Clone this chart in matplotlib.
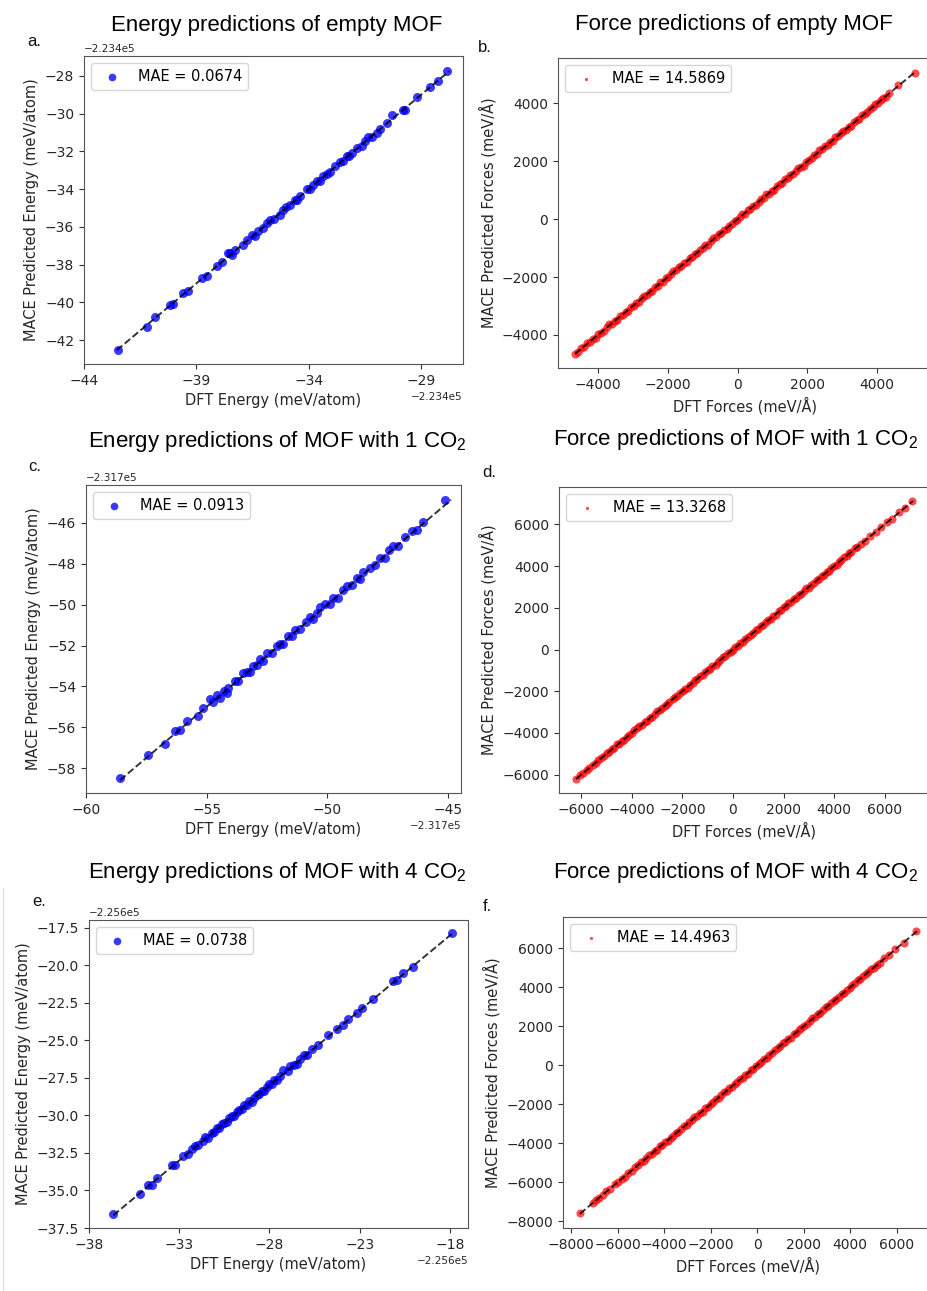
import numpy as np
import matplotlib
matplotlib.use("Agg")
import matplotlib.pyplot as plt
from matplotlib.lines import Line2D
from matplotlib.ticker import FixedLocator, MultipleLocator

# ---------------------------------------------------------------- data
# Energies are per-atom values in meV/atom; stored relative to a base value.
BASE_EMPTY = -223400.0
BASE_1CO2 = -231700.0
BASE_4CO2 = -225600.0

dft_e_empty = [
    -42.50, -41.21, -40.84, -40.17, -40.03, -39.58, -39.36, -38.76, -38.54, -38.09,
    -37.87, -37.58, -37.50, -37.43, -37.28, -36.91, -36.76, -36.54, -36.40, -36.24,
    -36.02, -35.87, -35.72, -35.55, -35.28, -35.13, -35.00, -34.83, -34.61, -34.50,
    -34.39, -34.09, -33.94, -33.80, -33.65, -33.50, -33.35, -33.20, -33.05, -32.83,
    -32.61, -32.46, -32.31, -32.20, -32.09, -31.86, -31.64, -31.49, -31.35, -31.20,
    -30.97, -30.83, -30.53, -30.31, -29.79, -29.71, -29.19, -28.60, -28.23, -27.83,
]
err_e_empty = [
    -0.04, -0.12, 0.06, 0.03, -0.08, 0.05, -0.02, 0.07, -0.05, 0.04,
    0.02, 0.18, 0.10, -0.06, 0.08, -0.03, 0.05, 0.09, -0.07, 0.02,
    -0.04, 0.06, 0.11, -0.03, -0.08, 0.04, 0.07, -0.02, 0.03, -0.06,
    0.05, 0.09, -0.04, 0.02, 0.06, -0.07, 0.03, 0.01, -0.05, 0.08,
    0.04, -0.03, 0.07, -0.06, 0.02, 0.05, -0.08, 0.03, 0.10, -0.02,
    -0.07, 0.04, 0.06, 0.22, -0.03, -0.09, 0.05, 0.02, -0.04, 0.08,
]

dft_e_1co2 = [
    -58.59, -57.42, -56.73, -56.31, -56.10, -55.83, -55.34, -55.14, -54.86, -54.72,
    -54.58, -54.45, -54.30, -54.17, -54.10, -53.83, -53.69, -53.48, -53.34, -53.20,
    -53.07, -52.90, -52.79, -52.65, -52.51, -52.30, -52.10, -51.96, -51.82, -51.62,
    -51.48, -51.34, -51.13, -50.90, -50.72, -50.58, -50.44, -50.30, -50.10, -49.89,
    -49.75, -49.54, -49.34, -49.20, -48.99, -48.78, -48.64, -48.51, -48.23, -48.02,
    -47.82, -47.61, -47.45, -47.26, -47.06, -46.78, -46.50, -46.30, -46.02, -45.12,
]
err_e_1co2 = [
    0.10, 0.05, -0.08, 0.12, -0.05, 0.15, -0.10, 0.08, 0.22, -0.06,
    0.18, -0.12, 0.09, -0.15, 0.04, 0.10, -0.07, 0.13, 0.06, -0.11,
    0.08, -0.04, 0.12, -0.09, 0.15, -0.06, 0.10, 0.03, -0.12, 0.07,
    -0.05, 0.11, -0.08, 0.06, 0.14, -0.10, 0.05, 0.20, 0.12, -0.07,
    0.09, -0.12, 0.06, 0.11, -0.04, 0.08, -0.09, 0.13, 0.05, -0.06,
    0.10, -0.08, 0.12, 0.15, -0.05, 0.07, 0.10, -0.03, 0.06, 0.25,
]

dft_e_4co2 = [
    -36.65, -35.17, -34.71, -34.53, -34.25, -33.42, -33.24, -32.77, -32.50, -32.30,
    -32.13, -31.94, -31.70, -31.55, -31.39, -31.20, -31.05, -30.93, -30.78, -30.65,
    -30.50, -30.37, -30.22, -30.10, -29.95, -29.82, -29.68, -29.54, -29.40, -29.26,
    -29.12, -28.99, -28.85, -28.71, -28.57, -28.43, -28.30, -28.16, -28.02, -27.88,
    -27.74, -27.60, -27.40, -27.23, -26.96, -26.86, -26.65, -26.49, -26.31, -26.10,
    -25.94, -25.66, -25.29, -24.74, -24.28, -23.91, -23.63, -23.17, -22.89, -22.25,
    -21.14, -20.95, -20.59, -20.03, -17.91,
]
err_e_4co2 = [
    0.06, -0.04, 0.08, -0.10, 0.05, 0.12, -0.03, 0.07, -0.06, 0.04,
    0.09, -0.05, 0.03, 0.11, -0.08, 0.06, -0.02, 0.10, -0.07, 0.05,
    0.02, -0.06, 0.08, 0.04, -0.09, 0.07, 0.03, -0.05, 0.10, -0.03,
    0.06, -0.08, 0.04, 0.09, -0.02, 0.07, -0.06, 0.05, 0.11, -0.04,
    0.08, -0.03, 0.06, 0.25, -0.07, 0.18, 0.04, -0.05, 0.09, 0.12,
    -0.06, 0.08, -0.04, 0.10, 0.05, -0.08, 0.06, -0.03, 0.07, 0.04,
    0.09, -0.05, 0.06, -0.08, 0.07,
]

# Force components in meV/Å
dft_f_empty = [
    -4654, -4560, -4470, -4395, -4310, -4220, -4150, -4065, -3985, -3910,
    -3830, -3745, -3670, -3600, -3515, -3440, -3365, -3290, -3205, -3130,
    -3060, -2975, -2900, -2830, -2745, -2670, -2600, -2515, -2440, -2370,
    -2290, -2210, -2140, -2060, -1985, -1910, -1835, -1755, -1680, -1605,
    -1530, -1450, -1375, -1300, -1225, -1150, -1070, -995, -920, -845,
    -770, -690, -615, -540, -465, -390, -310, -235, -160, -85,
    -10, 65, 140, 220, 295, 370, 445, 520, 600, 675,
    750, 825, 900, 980, 1055, 1130, 1205, 1280, 1360, 1435,
    1510, 1585, 1660, 1740, 1815, 1890, 1965, 2040, 2120, 2195,
    2270, 2345, 2420, 2500, 2575, 2650, 2725, 2800, 2880, 2955,
    3030, 3105, 3180, 3260, 3335, 3410, 3485, 3560, 3640, 3715,
    3790, 3865, 3940, 4020, 4095, 4170, 4250, 4330, 4600, 5080,
]
err_f_empty = [
    12, -35, 20, -8, 31, -22, 5, -40, 18, -12,
    -27, 9, 36, -15, 4, -30, 22, -6, 14, -38,
    25, -11, 7, -33, 17, 30, -19, 2, -25, 11,
    -4, 28, -36, 15, -20, 6, 33, -14, 21, -29,
    8, -17, 26, -3, 37, -24, 13, -9, 19, -32,
    3, 24, -13, 34, -21, 10, -37, 16, -5, 29,
    -18, 6, 32, -26, 14, -2, 23, -31, 9, 38,
    -10, 27, -16, 1, -34, 19, 12, -23, 35, -7,
    21, -28, 4, 31, -12, -39, 17, 8, -20, 26,
    -15, 33, -4, 22, -30, 11, -9, 36, -18, 5,
    28, -22, 15, -35, 7, 24, -13, 30, -1, -27,
    18, -8, 34, -19, 10, 27, -36, 14, 45, -30,
]

dft_f_1co2 = [
    -6197, -6050, -5930, -5790, -5680, -5555, -5425, -5330, -5205, -5095,
    -4990, -4905, -4790, -4705, -4590, -4510, -4395, -4310, -4190, -4105,
    -3995, -3910, -3785, -3700, -3610, -3495, -3405, -3290, -3210, -3095,
    -3005, -2890, -2810, -2695, -2605, -2515, -2390, -2310, -2195, -2110,
    -1990, -1905, -1795, -1710, -1590, -1505, -1410, -1295, -1205, -1110,
    -995, -905, -810, -690, -605, -495, -410, -300, -205, -95,
    -5, 90, 205, 295, 410, 490, 605, 695, 810, 905,
    990, 1110, 1195, 1305, 1390, 1510, 1595, 1690, 1805, 1890,
    2010, 2095, 2190, 2310, 2405, 2490, 2605, 2710, 2795, 2910,
    2990, 3105, 3195, 3310, 3390, 3505, 3590, 3710, 3795, 3890,
    4005, 4110, 4190, 4290, 4410, 4495, 4600, 4690, 4810, 4910,
    5060, 5240, 5420, 5650, 5860, 6080, 6310, 6560, 6820, 7100,
]
err_f_1co2 = [
    -20, 15, -8, 30, -12, 22, -35, 6, 18, -26,
    9, -31, 24, -5, 33, -17, 11, -28, 3, 19,
    -14, 27, -3, 36, -22, 8, -33, 16, -9, 25,
    31, -11, 20, -30, 4, -19, 13, 34, -24, 7,
    -6, 23, -37, 12, -15, 29, -2, 18, -27, 10,
    26, -18, 5, -32, 21, -7, 35, -13, 15, -25,
    2, 30, -21, 9, -34, 17, -4, 24, -16, 32,
    -10, 14, -29, 22, 6, -36, 19, -12, 28, -3,
    16, -24, 33, -8, 11, -19, 27, -31, 4, 21,
    -15, 7, -26, 35, -1, 13, -22, 30, -9, 18,
    25, -33, 10, -17, 29, -6, 16, -28, 38, -14,
    22, -18, 35, -25, 12, 40, -30, 18, -22, 30,
]

dft_f_4co2 = [
    -7620, -7040, -6930, -6790, -6640, -6480, -6310, -6130, -5960, -5820,
    -5680, -5530, -5390, -5240, -5100, -4990, -4870, -4760, -4640, -4530,
    -4410, -4300, -4180, -4070, -3950, -3840, -3720, -3610, -3490, -3380,
    -3260, -3150, -3030, -2920, -2800, -2690, -2570, -2460, -2340, -2230,
    -2110, -2000, -1880, -1770, -1650, -1540, -1420, -1310, -1190, -1080,
    -960, -850, -730, -620, -500, -390, -270, -160, -40, 70,
    190, 300, 420, 530, 650, 760, 880, 990, 1110, 1220,
    1340, 1450, 1570, 1680, 1800, 1910, 2030, 2140, 2260, 2370,
    2490, 2600, 2720, 2830, 2950, 3060, 3180, 3290, 3410, 3520,
    3640, 3750, 3870, 3980, 4100, 4210, 4330, 4440, 4560, 4680,
    4790, 4900, 5020, 5150, 5300, 5480, 5690, 5940, 6300, 6850,
]
err_f_4co2 = [
    30, -22, 14, -35, 8, 25, -12, 36, -18, 5,
    -27, 17, -6, 32, -20, 11, -33, 3, 23, -15,
    9, -29, 26, -4, 18, -37, 13, -10, 34, -24,
    6, 21, -31, 15, -2, 28, -19, 10, -36, 24,
    -13, 33, -7, 19, -26, 2, 30, -17, 12, -34,
    22, -9, 37, -21, 7, -30, 16, -3, 27, -14,
    -25, 11, -38, 20, -8, 29, -16, 4, 35, -23,
    13, -32, 24, -1, 31, -18, 8, -28, 17, 36,
    -11, 26, -35, 6, 19, -24, 33, -5, 14, -29,
    28, -15, 10, -33, 22, -7, 38, -20, 3, 25,
    -17, 31, -26, 12, -40, 20, -30, 25, -20, 35,
]

mae_labels = ["MAE = 0.0674", "MAE = 14.5869",
              "MAE = 0.0913", "MAE = 13.3268",
              "MAE = 0.0738", "MAE = 14.4963"]

titles = ["Energy predictions of empty MOF",
          "Force predictions of empty MOF",
          r"Energy predictions of MOF with 1 CO$_\mathregular{2}$",
          r"Force predictions of MOF with 1 CO$_\mathregular{2}$",
          r"Energy predictions of MOF with 4 CO$_\mathregular{2}$",
          r"Force predictions of MOF with 4 CO$_\mathregular{2}$"]
panel_tags = ["a.", "b.", "c.", "d.", "e.", "f."]

energy_xticks = [[-44, -39, -34, -29], [-60, -55, -50, -45], [-38, -33, -28, -23, -18]]
energy_yticks = [[-42, -40, -38, -36, -34, -32, -30, -28],
                 [-58, -56, -54, -52, -50, -48, -46],
                 [-37.5, -35.0, -32.5, -30.0, -27.5, -25.0, -22.5, -20.0, -17.5]]
energy_xlim = [(-44.0, -27.13), (-60.0, -44.46), (-38.0, -17.0)]
energy_ylim = [(-43.27, -26.94), (-59.22, -44.14), (-37.5, -16.97)]

# ---------------------------------------------------------------- style
plt.rcParams.update({
    "font.family": "DejaVu Sans",
    "mathtext.fontset": "custom",
    "mathtext.rm": "Liberation Sans",
    "xtick.labelsize": 10,
    "ytick.labelsize": 10,
    "axes.labelsize": 10.5,
    "legend.fontsize": 10.5,
    "xtick.color": "#333333",
    "ytick.color": "#333333",
    "xtick.labelcolor": "#262626",
    "ytick.labelcolor": "#262626",
    "axes.labelcolor": "#262626",
    "axes.edgecolor": "#555555",
})

W, H = 927, 1291
fig = plt.figure(figsize=(W / 100, H / 100), dpi=100)


def frame(left, top, right, bottom):
    return [left / W, 1 - bottom / H, (right - left) / W, (bottom - top) / H]


energy_boxes = [frame(84, 56, 463, 364), frame(86, 485, 461, 793), frame(89, 920, 468, 1228)]
force_boxes = [frame(558, 58, 932, 368), frame(559, 487, 930, 793), frame(563, 917, 934, 1228)]

energy_sets = [(BASE_EMPTY, dft_e_empty, err_e_empty),
               (BASE_1CO2, dft_e_1co2, err_e_1co2),
               (BASE_4CO2, dft_e_4co2, err_e_4co2)]
force_sets = [(dft_f_empty, err_f_empty), (dft_f_1co2, err_f_1co2), (dft_f_4co2, err_f_4co2)]


def parity_line(ax, x, y):
    lo = min(np.min(x), np.min(y))
    hi = max(np.max(x), np.max(y))
    ax.plot([lo, hi], [lo, hi], "k--", lw=1.4, alpha=0.8, zorder=3)


for i in range(3):
    base, rel, err = energy_sets[i]
    x = base + np.asarray(rel)
    y = x + np.asarray(err)
    ax = fig.add_axes(energy_boxes[i])
    ax.scatter(x, y, s=42, color="blue", alpha=0.78, linewidths=0, label=mae_labels[2 * i])
    parity_line(ax, x, y)
    ax.set_xlim(base + energy_xlim[i][0], base + energy_xlim[i][1])
    ax.set_ylim(base + energy_ylim[i][0], base + energy_ylim[i][1])
    ax.xaxis.set_major_locator(FixedLocator([base + t for t in energy_xticks[i]]))
    ax.yaxis.set_major_locator(FixedLocator([base + t for t in energy_yticks[i]]))
    ax.xaxis.get_offset_text().set_fontsize(7.5)
    ax.yaxis.get_offset_text().set_fontsize(7.5)
    ax.set_xlabel("DFT Energy (meV/atom)")
    ax.set_ylabel("MACE Predicted Energy (meV/atom)")
    ax.legend(loc="upper left", scatterpoints=1, markerscale=0.85)

for i in range(3):
    dft, err = force_sets[i]
    x = np.asarray(dft, dtype=float)
    y = x + np.asarray(err)
    ax = fig.add_axes(force_boxes[i])
    ax.scatter(x, y, s=34, color="red", alpha=0.7, linewidths=0, label=mae_labels[2 * i + 1])
    parity_line(ax, x, y)
    ax.xaxis.set_major_locator(MultipleLocator(2000))
    ax.yaxis.set_major_locator(MultipleLocator(2000))
    ax.set_xlabel("DFT Forces (meV/Å)")
    ax.set_ylabel("MACE Predicted Forces (meV/Å)")
    ax.legend(loc="upper left", scatterpoints=1, markerscale=0.4)

# Panel titles
title_pos = [(277, 31), (734, 30), (277, 447), (735, 445), (277, 878), (735, 878)]
for (tx, ty), t in zip(title_pos, titles):
    fig.text(tx / W, 1 - ty / H, t, ha="center", va="baseline",
             fontsize=16, family="Liberation Sans", color="black")

# Panel letters
tag_pos = [(27, 46), (478, 52), (28, 471), (482, 477), (32, 906), (483, 911)]
for (tx, ty), t in zip(tag_pos, panel_tags):
    fig.text(tx / W, 1 - ty / H, t, ha="left", va="baseline",
             fontsize=12, family="Liberation Sans", color="#111111")

# thin page edge on the lower left
fig.add_artist(Line2D([3 / W, 3 / W], [0, 1 - 888 / H], color="#e0e0e0", lw=1.0))

fig.savefig("out.png", dpi=100)
